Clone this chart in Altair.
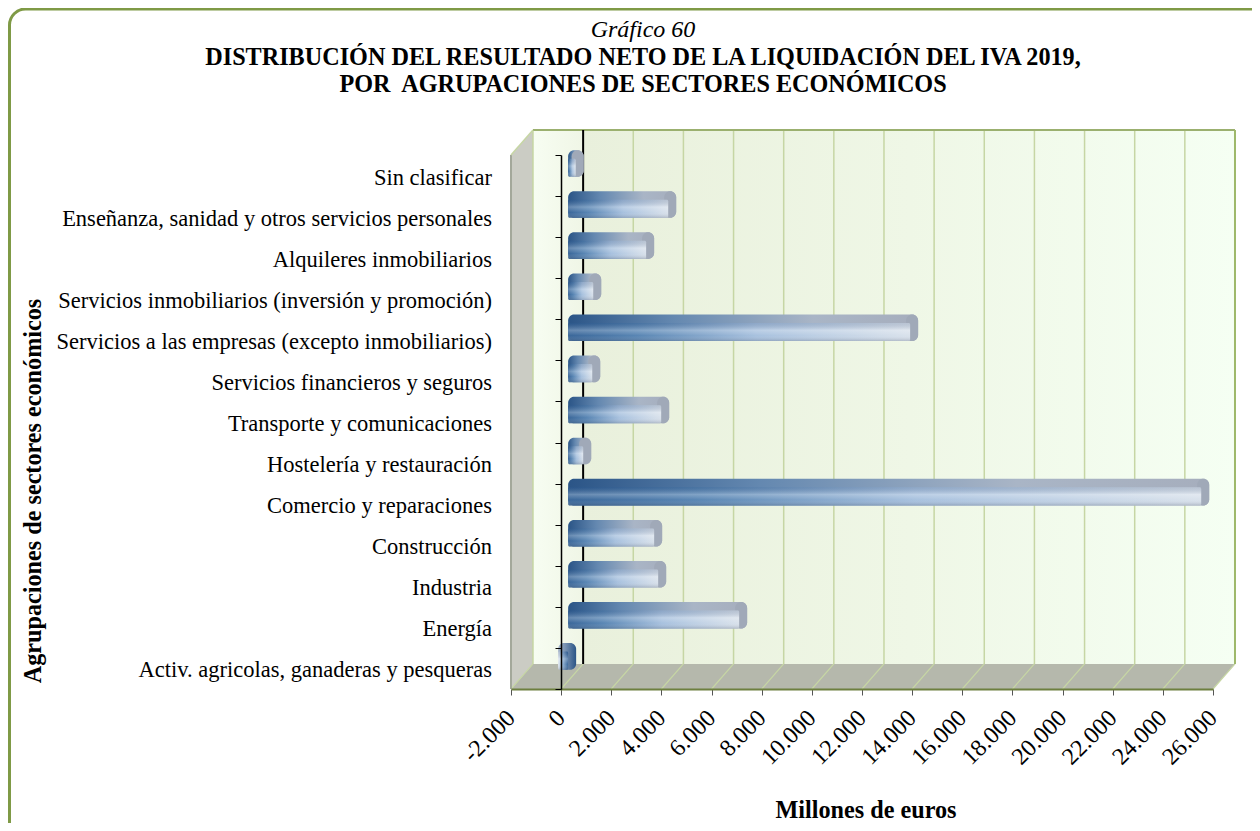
import altair as alt
import pandas as pd

categories = ["Activ. agricolas, ganaderas y pesqueras", "Energía", "Industria", "Construcción",
              "Comercio y reparaciones", "Hostelería y restauración", "Transporte y comunicaciones",
              "Servicios financieros y seguros", "Servicios a las empresas (excepto inmobiliarios)",
              "Servicios inmobiliarios (inversión y promoción)", "Alquileres inmobiliarios",
              "Enseñanza, sanidad y otros servicios personales", "Sin clasificar"]
values = [-400, 6820, 3590, 3430, 25250, 600, 3710, 960, 13640, 1000, 3110, 3990, 300]
x_ticks = list(range(-2000, 26001, 2000))

FONT = "Liberation Serif"
W, H = 702, 534
PL, PT = 503, 147
DX, DY = 877, 0.61   # depth of the 3D box in data units

sx = alt.Scale(domain=[-2000, 26000], nice=False)
sy = alt.Scale(domain=[0, 13], nice=False)
x_axis = alt.Axis(values=x_ticks,
                  labelExpr="replace(replace(format(datum.value, ','), ',', '.'), '\u2212', '-')",
                  labelAngle=-45, labelAlign="right", labelBaseline="middle", labelFont=FONT,
                  labelFontSize=24, labelColor="black", labelPadding=19, labelOverlap=False,
                  tickColor="#555555", tickSize=6, domainColor="#6d7f3f", domainWidth=2,
                  grid=False, zindex=2, title=None)
y_axis = alt.Axis(values=list(range(14)), labels=False, offset=-50, tickSize=6, tickColor="black",
                  domainColor="black", domainWidth=1.5, grid=False, zindex=2, title=None)
ax = alt.X("x:Q", scale=sx, axis=x_axis)
ay = alt.Y("y:Q", scale=sy, axis=y_axis)


def grad(stops, horizontal=True):
    g = dict(x1=0, y1=0, x2=1, y2=0) if horizontal else dict(x1=0, y1=0, x2=0, y2=1)
    return alt.Gradient(gradient="linear",
                        stops=[alt.GradientStop(offset=o, color=c) for o, c in stops], **g)


# ---------- box
left_wall = alt.Chart(pd.DataFrame({"x": [-2000, -2000 + DX], "y": [0, DY], "y2": [13, 13 + DY]})).mark_area(
    orient="vertical", color="#cbccc4").encode(x=ax, y=ay, y2="y2:Q")
floor = alt.Chart(pd.DataFrame({"x": [-2000, -2000 + DX, 26000, 26000 + DX],
                                "y": [0, 0, 0, DY], "y2": [0, DY, DY, DY]})).mark_area(
    orient="vertical", color="#b5b8ac").encode(x=ax, y=ay, y2="y2:Q")
wall_df = pd.DataFrame({"x": [-2000 + DX, DX], "x2": [DX, 26000 + DX], "y": [DY, DY], "y2": [13 + DY, 13 + DY],
                        "part": ["a", "b"]})
wall_a = alt.Chart(wall_df[wall_df.part == "a"]).mark_rect(
    fill=grad([(0, "#f7fdf2"), (1, "#f0f6e6")])).encode(x=ax, x2="x2:Q", y=ay, y2="y2:Q")
wall_b = alt.Chart(wall_df[wall_df.part == "b"]).mark_rect(
    fill=grad([(0, "#e9f0dc"), (0.5, "#eff7e6"), (1, "#f5fff3")])).encode(x=ax, x2="x2:Q", y=ay, y2="y2:Q")
grid = alt.Chart(pd.DataFrame({"x": [t + DX for t in x_ticks if t != 0], "y": DY, "y2": 13 + DY})).mark_rule(
    color="#c6d6a4", strokeWidth=1.5).encode(x=ax, y=ay, y2="y2:Q")
floor_rows = []
for t in x_ticks:
    floor_rows += [{"t": t, "x": t, "y": 0}, {"t": t, "x": t + DX, "y": DY}]
floor_grid = alt.Chart(pd.DataFrame(floor_rows)).mark_line(color="#c6d6a4", strokeWidth=1.2).encode(
    x=ax, y=ay, detail="t:N")
top_edge = alt.Chart(pd.DataFrame({"x": [-2000 + DX, 26000 + DX], "y": [13 + DY] * 2})).mark_line(
    color="#9bb06f", strokeWidth=2).encode(x=ax, y=ay)
right_edge = alt.Chart(pd.DataFrame({"x": [26000 + DX] * 2, "y": [DY, 13 + DY]})).mark_line(
    color="#9db86a", strokeWidth=2).encode(x=ax, y=ay)
left_edge = alt.Chart(pd.DataFrame({"x": [-2000] * 2, "y": [0, 13]})).mark_line(
    color="#a3a89a", strokeWidth=2).encode(x=ax, y=ay)
diag_edge = alt.Chart(pd.DataFrame({"x": [-2000, -2000 + DX], "y": [13, 13 + DY]})).mark_line(
    color="#c6d6a4", strokeWidth=1.5).encode(x=ax, y=ay)
zero_back = alt.Chart(pd.DataFrame({"x": [DX], "y": [DY], "y2": [13 + DY]})).mark_rule(
    color="black", strokeWidth=2).encode(x=ax, y=ay, y2="y2:Q")

# ---------- bars
bars = pd.DataFrame({"cat": categories, "value": values, "i": range(len(values))})
bars["y"] = bars.i + 0.47
bars["y2"] = bars.i + 0.91
bars["x"] = 0
pos = bars[bars.value > 0]
neg = bars[bars.value < 0]
body_stops = [(0, "#2b5587"), (0.3, "#6488b0"), (0.7, "#a9b5c6"), (1, "#a6aebd")]
front_stops = [(0, "#2f5f95"), (0.2, "#4f7fb0"), (0.55, "#a5c0df"), (1, "#dbe4ee")]
shade = grad([(0, "rgba(20,40,80,0.15)"), (0.4, "rgba(255,255,255,0.28)"), (0.7, "rgba(255,255,255,0.05)"),
              (1, "rgba(90,100,120,0.30)")], horizontal=False)
body_kw = dict(xOffset=7, x2Offset=15, y2Offset=-8.5, cornerRadius=6)
front_kw = dict(xOffset=7, x2Offset=7, cornerRadius=1.5)
enc = dict(x=ax, x2="value:Q", y=ay, y2="y2:Q")
body = alt.Chart(pos).mark_rect(fill=grad(body_stops), **body_kw).encode(**enc)
cap = alt.Chart(pos.assign(x=pos.value)).mark_rect(
    fill="#a0a9b8", xOffset=3, x2Offset=15, y2Offset=-8.5, cornerRadius=6).encode(**enc)
front = alt.Chart(pos).mark_rect(fill=grad(front_stops), opacity=0.93, **front_kw).encode(**enc)
front_sh = alt.Chart(pos).mark_rect(fill=shade, **front_kw).encode(**enc)

n_enc = dict(x=alt.X("value:Q", scale=sx, axis=x_axis), x2="x:Q", y=ay, y2="y2:Q")
n_body = alt.Chart(neg).mark_rect(fill=grad([(0, "#a9b8cc"), (1, "#2b5587")]), **body_kw).encode(**n_enc)
n_front = alt.Chart(neg).mark_rect(fill=grad([(0, "#e8edf3"), (0.45, "#8fb0d3"), (1, "#2f5f95")]),
                                   **front_kw).encode(**n_enc)
n_sh = alt.Chart(neg).mark_rect(fill=shade, **front_kw).encode(**n_enc)

# ---------- category labels and titles
labels = alt.Chart(bars.assign(x=-2000, y=bars.i + 0.5)).mark_text(
    align="right", baseline="middle", font=FONT, fontSize=22.5, color="black", xOffset=-19, yOffset=2).encode(
    x=ax, y=ay, text="cat:N")


def txt(s, px, py, **kw):
    base = dict(font=FONT, fontSize=24.2, color="black", align="center", baseline="middle")
    base.update(kw)
    return alt.Chart(pd.DataFrame({"t": [s]})).mark_text(**base).encode(
        x=alt.value(px - 8 - PL), y=alt.value(py - 8 - PT), text="t:N")


texts = [
    txt("Gráfico 60", 643, 30, fontStyle="italic", fontSize=24),
    txt("DISTRIBUCIÓN DEL RESULTADO NETO DE LA LIQUIDACIÓN DEL IVA 2019,", 643, 58, fontWeight="bold"),
    txt("POR\u00a0 AGRUPACIONES DE SECTORES ECONÓMICOS", 643, 85, fontWeight="bold"),
    txt("Agrupaciones de sectores económicos", 34, 491, fontWeight="bold", angle=270),
    txt("Millones de euros", 866, 811, fontWeight="bold"),
]

border = alt.Chart(pd.DataFrame({"a": [0]})).mark_rect(
    fill="transparent", stroke="#7f9a46", strokeWidth=3, cornerRadius=16).encode(
    x=alt.value(1.5 - PL), x2=alt.value(1300 - PL), y=alt.value(1 - PT), y2=alt.value(832 - PT))

chart = alt.layer(
    border, left_wall, floor, wall_a, wall_b, grid, floor_grid, top_edge, right_edge, left_edge, diag_edge,
    zero_back, body, cap, front, front_sh, n_body, n_front, n_sh, labels, *texts
).properties(
    width=W, height=H,
    padding={"left": PL, "top": PT, "right": 1244 - PL - W, "bottom": 815 - PT - H},
    autosize=alt.AutoSizeParams(type="none"),
).configure_view(stroke=None)

chart.save("out.html", embed_options={"renderer": "svg", "actions": False})
